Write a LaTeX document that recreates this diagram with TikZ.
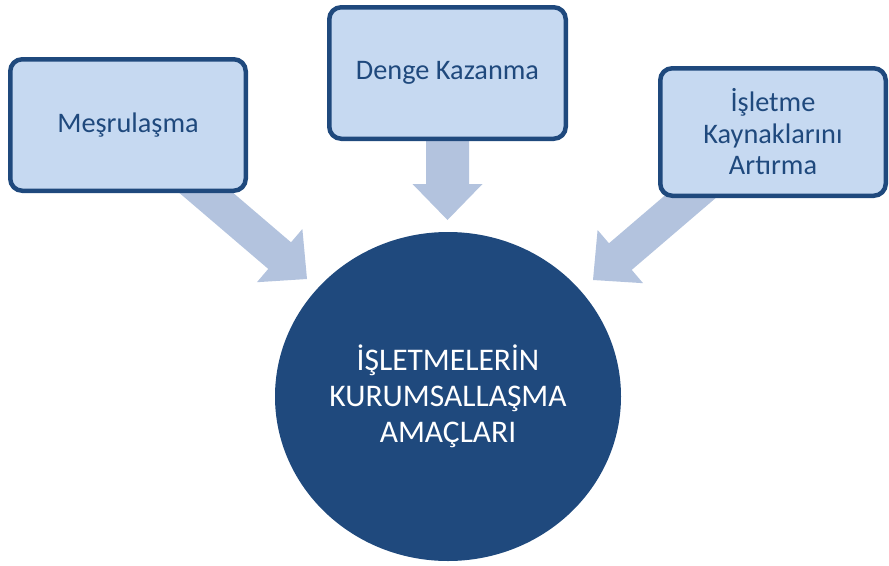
\documentclass[tikz,border=0pt]{standalone}
\usepackage{fontspec}
\setmainfont{Carlito}
\usetikzlibrary{calc,backgrounds,shapes.geometric}

\definecolor{navy}{HTML}{1F497D}
\definecolor{paleblue}{HTML}{C6D9F1}
\definecolor{arrowblue}{HTML}{B3C3DE}

% Block arrow from #1 to the tip #2, shaft half-width #3
\newcommand{\blockarrow}[3]{%
  \fill[arrowblue]
    ($(#1)!#3!90:(#2)$)
    -- ($(#2)!36pt!(#1)!#3!90:(#2)$)
    -- ($(#2)!36pt!(#1)!35pt!90:(#2)$)
    -- (#2)
    -- ($(#2)!36pt!(#1)!35pt!-90:(#2)$)
    -- ($(#2)!36pt!(#1)!#3!-90:(#2)$)
    -- ($(#1)!#3!-90:(#2)$)
    -- cycle;}

\tikzset{
  goalbox/.style={draw=navy, line width=4.5pt, fill=paleblue, rounded corners=12pt,
    text=navy, align=center, inner sep=0pt,
    font=\fontsize{28.3}{31.5}\selectfont},
  hub/.style={ellipse, fill=navy, inner sep=0pt, text=white, align=center,
    font=\fontsize{31.5}{36}\selectfont}
}

\begin{document}
\begin{tikzpicture}[x=1pt, y=-1pt]
  \useasboundingbox (0,0) rectangle (889,565);

  % goal boxes
  \node[goalbox, minimum width=235.5pt, minimum height=131.5pt] (m) at (128,125) {Meşrulaşma};
  \node[goalbox, minimum width=236.5pt, minimum height=131.5pt] (d) at (447.5,73) {Denge Kazanma};
  \node[goalbox, minimum width=225.5pt, minimum height=127.5pt] (k) at (773,132)
    {İşletme\\Kaynaklarını\\Artırma};

  % central aim
  \node[hub, minimum width=346pt, minimum height=329pt] (c) at (448,396.5)
    {İŞLETMELERİN\\KURUMSALLAŞMA\\AMAÇLARI};

  % arrow ends
  \coordinate (s1) at ($(m.center)+(62,54)$);
  \coordinate (t1) at (307,279);
  \coordinate (s2) at ($(d.south)+(0,-12)$);
  \coordinate (t2) at (447.5,220);
  \coordinate (s3) at ($(k.center)+(-62,47)$);
  \coordinate (t3) at (593,280);

  \begin{scope}[on background layer]
    \blockarrow{s1}{t1}{17.5pt}
    \blockarrow{s2}{t2}{21.5pt}
    \blockarrow{s3}{t3}{17.5pt}
  \end{scope}
\end{tikzpicture}
\end{document}
